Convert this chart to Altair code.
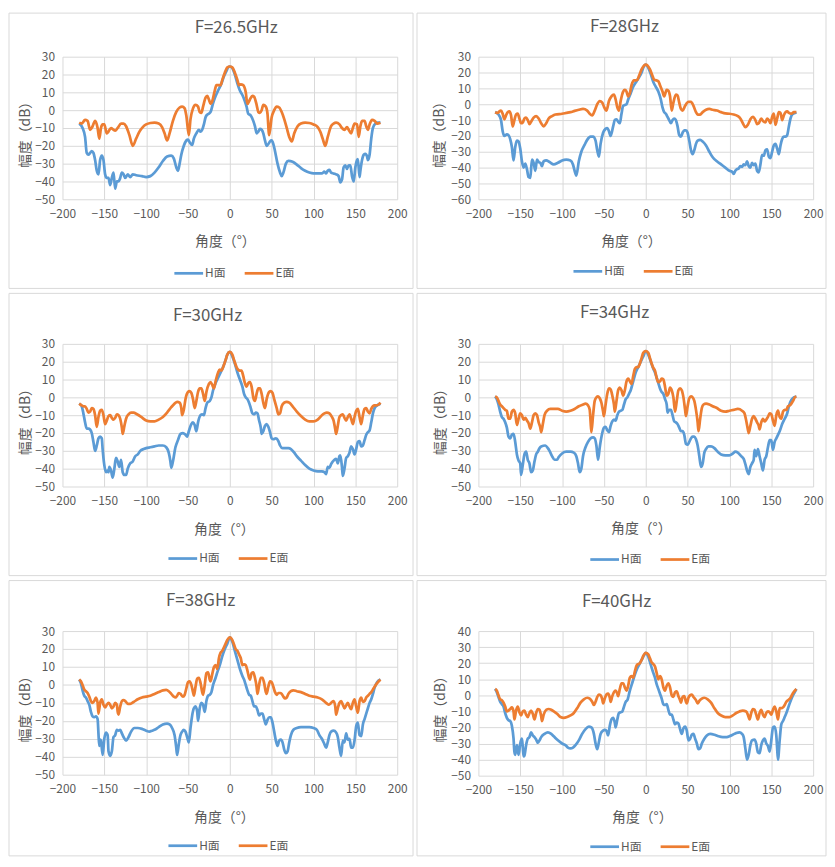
import altair as alt
import pandas as pd

TITLES = ["F=26.5GHz", "F=28GHz", "F=30GHz", "F=34GHz", "F=38GHz", "F=40GHz"]
SERIES = ["H面", "E面"]
X_TICKS = list(range(-200, 201, 50))
Y_DOMAINS = [(-50, 30), (-60, 30), (-50, 30), (-50, 30), (-50, 30), (-50, 40)]

# ---------------- F = 26.5 GHz ----------------
H1 = [(-180,-7.5),(-176,-10),(-173,-15),(-171,-24),(-169,-25),(-167,-24),(-165,-23),(-163,-24),(-161,-28),
      (-159,-34),(-157,-36),(-155,-28),(-153,-25.5),(-151,-28),(-149,-36),(-147,-38),(-145,-38),(-143,-42),
      (-141,-38),(-139,-35),(-137,-44),(-135,-40),(-133,-40),(-131,-38),(-129,-35),(-127,-36),(-125,-38),
      (-122,-36),(-119,-37.5),(-116,-36),(-112,-36.5),(-105,-37),(-100,-37.5),(-95,-37),(-90,-35),(-85,-32),
      (-80,-28.5),(-75,-26),(-70,-25.5),(-67,-27),(-64,-32),(-62,-34),(-60,-30),(-58,-25),(-55,-20),(-52,-17),
      (-50,-16.5),(-48,-18),(-45,-19.5),(-43,-16),(-40,-13),(-37,-11),(-35,-12),(-33,-11),(-31,-8),(-29,-4),
      (-27,-2.5),(-25,-2),(-23,-1),(-20,4),(-17,8),(-13,12),(-10,15),(-7,19),(-4,22),(-2,24),(0,24.5),
      (3,23.5),(6,20),(9,15),(12,11),(15,8.5),(18,5),(20,2),(22,-2),(25,-3),(28,-6),(30,-9),(32,-13),(34,-12),
      (36,-10.5),(38,-11),(40,-13),(42,-17),(44,-20),(46,-19),(48,-17.5),(50,-17),(52,-19),(54,-23),(57,-30),
      (60,-35),(62,-37),(64,-35),(67,-30),(70,-28.5),(75,-29),(80,-30.5),(85,-32.5),(90,-34),(95,-35),
      (100,-35.5),(105,-35.5),(110,-35.5),(113,-34.5),(115,-35.5),(117,-34),(119,-33.5),(121,-35),(124,-35.5),
      (127,-36),(130,-37),(132,-40.5),(134,-39),(136,-32),(138,-31),(140,-33),(142,-31),(144,-31),(146,-37),
      (148,-40),(150,-32),(152,-28),(153,-27.5),(155,-37.5),(156,-34),(158,-28),(160,-25),(162,-24.5),
      (164,-26),(165,-28),(167,-25),(169,-16),(171,-10),(174,-7.5),(177,-7),(180,-7)]
E1 = [(-180,-7),(-177,-7.5),(-173,-5.5),(-170,-6),(-167,-11),(-164,-9),(-161,-6),(-158,-10),(-156,-16),
      (-154,-10),(-152,-8),(-150,-8),(-147,-13),(-145,-12),(-142,-10),(-139,-11),(-137,-11.5),(-134,-10),
      (-130,-7.5),(-127,-7.5),(-124,-9),(-120,-14),(-116,-20),(-112,-16),(-108,-12),(-104,-9.5),(-100,-8),
      (-95,-7.2),(-90,-7),(-85,-7.5),(-81,-9.5),(-78,-13),(-75,-17),(-72,-13),(-68,-6),(-64,-1),(-60,1.5),
      (-57,2),(-54,1),(-52,-3),(-49,-14),(-47,-5),(-44,1),(-41,3),(-38,2),(-36,-1),(-34,-1.5),(-32,2),(-29,7),
      (-27,8),(-25,6),(-23,3.5),(-21,5),(-18,11),(-16,14),(-13,14),(-11,14),(-9,17),(-6,21),(-3,24),(0,24.5),
      (3,24),(6,21),(9,17),(11,14),(13,14.5),(16,14),(19,10),(21,3.5),(24,6),(27,8),(29,7.5),(32,3),(34,-1),
      (36,-1.5),(38,0),(40,3),(43,2),(45,-2),(47,-14),(50,-4),(53,0),(56,2),(59,1.5),(62,-1),(65,-5),(68,-10),
      (71,-15),(74,-17.5),(77,-13),(81,-9),(85,-7.5),(90,-7),(95,-7.2),(100,-8),(105,-9.5),(108,-12),(111,-16),
      (114,-20),(117,-15),(121,-9),(124,-7.5),(127,-7),(131,-8),(134,-10),(137,-11),(140,-9.5),(142,-11),
      (145,-13),(147,-10),(149,-7.5),(152,-8),(154,-15),(156,-9),(158,-6),(161,-6),(163,-9),(165,-11),
      (167,-8),(170,-5.5),(173,-6),(176,-7.5),(180,-7)]

# ---------------- F = 28 GHz ----------------
H2 = [(-180,-5),(-176,-6.5),(-173,-10),(-171,-17),(-169,-20),(-166,-19),(-164,-19.5),(-162,-22),(-160,-27),
      (-158,-35.5),(-156,-27),(-154,-23),(-152,-23.5),(-150,-28),(-148,-36),(-146,-40),(-144,-37.5),(-142,-41),
      (-140,-46),(-138,-46.5),(-136,-35),(-134,-37),(-132,-42),(-130,-35),(-128,-36.5),(-126,-37),(-124,-39),
      (-122,-36),(-119,-35.5),(-115,-36.5),(-110,-38),(-105,-37),(-100,-35.5),(-95,-35),(-90,-35.5),(-87,-38),
      (-85,-42),(-83,-45),(-80,-36),(-77,-30),(-73,-25.5),(-70,-22.5),(-66,-20.5),(-63,-20.5),(-60,-23),
      (-58,-29),(-56,-33),(-54,-25),(-51,-18),(-48,-15.5),(-46,-15),(-44,-17),(-42,-20),(-39,-14),(-37,-10),
      (-35,-9.5),(-33,-11),(-31,-12),(-29,-6),(-27,-1),(-25,-0.5),(-23,0),(-21,3),(-18,7),(-15,11),(-11,14.5),
      (-8,17),(-5,20),(-3,23),(0,25),(3,23),(6,19),(9,14),(12,11),(15,8),(18,3),(20,-2),(22,-5),(24,-6),(26,-8),
      (28,-10),(30,-12),(32,-10),(34,-9),(36,-10),(38,-14),(40,-19.5),(42,-20.5),(44,-18),(46,-16.5),(48,-16.5),
      (50,-18),(52,-23),(54,-29),(56,-31.5),(58,-29),(60,-25),(62,-23),(65,-22.5),(68,-23.5),(72,-26),(76,-30),
      (80,-33.5),(85,-36),(90,-38),(95,-40),(100,-42),(103,-42.5),(105,-44),(107,-42),(109,-41),(111,-40.5),
      (113,-39),(115,-39.5),(117,-38),(119,-38.5),(121,-36),(123,-39),(125,-40),(127,-37),(129,-38.5),
      (131,-37.5),(133,-42),(135,-43),(137,-38),(139,-32),(141,-32.5),(143,-29),(145,-28.5),(147,-33),
      (149,-34),(151,-30),(153,-26),(155,-25),(157,-28),(159,-31.5),(161,-26),(163,-22),(165,-20.5),
      (167,-20.5),(169,-19.5),(171,-14),(173,-9),(175,-6.5),(178,-5.5),(180,-5)]
E2 = [(-180,-5),(-177,-5.5),(-175,-4.5),(-173,-4),(-171,-6),(-169,-9.5),(-167,-7),(-165,-5),(-163,-4.5),
      (-161,-7),(-159,-14),(-157,-10),(-155,-6.5),(-153,-6),(-151,-9),(-149,-12),(-147,-11.5),(-145,-9),
      (-143,-8.5),(-141,-10),(-139,-12.5),(-137,-11),(-134,-8.5),(-131,-7.5),(-128,-9),(-125,-12),(-122,-14),
      (-119,-12),(-116,-9),(-112,-7.5),(-108,-6.5),(-100,-6),(-95,-5.5),(-90,-5),(-85,-4.2),(-80,-3.5),
      (-75,-3),(-70,-4),(-67,-6),(-64,-7),(-61,-4),(-58,0),(-55,2),(-52,1),(-50,-1.5),(-47,-4),(-44,2),(-41,5),
      (-38,6),(-36,3),(-34,-2),(-32,-4),(-30,2),(-27,8),(-25,9),(-23,8),(-21,5),(-19,7),(-17,12),(-14,15),
      (-12,15),(-10,15.5),(-8,18),(-5,22),(-2,24.5),(0,25),(2,24.5),(5,22),(8,18),(10,15.5),(13,15),(15,14.5),
      (17,12),(20,8),(22,5),(25,9),(27,8.5),(29,5),(31,-4),(33,1),(36,6),(38,5.5),(40,1),(42,-3),(44,-4),
      (47,-1),(51,1.5),(54,1.5),(57,-1),(60,-5),(62,-6.5),(65,-6.5),(68,-5),(72,-3.5),(76,-3),(80,-3.5),
      (85,-4),(90,-5),(95,-5.8),(100,-6),(105,-6.5),(110,-7.5),(113,-9),(116,-12),(119,-14.5),(122,-13),
      (125,-9.5),(128,-8),(131,-10),(133,-12.5),(135,-12),(138,-9),(140,-10.5),(143,-11.5),(145,-9),(147,-10),
      (149,-12),(151,-8),(153,-6),(155,-13),(157,-9),(159,-5),(161,-5.5),(163,-10),(165,-7),(167,-5),
      (169,-4.5),(171,-5.5),(174,-6),(177,-5),(180,-5)]

# ---------------- F = 30 GHz ----------------
H3 = [(-180,-3.5),(-177,-5),(-175,-9),(-173,-14),(-171,-17.5),(-169,-17.5),(-167,-18),(-165,-20),(-163,-25),
      (-161,-30),(-159,-27),(-157,-23),(-155,-22),(-153,-23),(-152,-29),(-150,-38),(-148,-42),(-146,-41),
      (-145,-42),(-144,-39),(-142,-41),(-140,-45),(-138,-40),(-136,-34),(-134,-36),(-132,-39),(-130,-35),
      (-128,-42),(-126,-43.5),(-124,-43.5),(-122,-40),(-119,-37),(-116,-36),(-113,-33),(-110,-32),(-107,-30),
      (-103,-29),(-100,-28.5),(-95,-28),(-90,-27.5),(-85,-27),(-80,-27),(-76,-28),(-73,-31),(-71,-36),
      (-70,-39.5),(-68,-36),(-65,-28),(-62,-24),(-59,-20.5),(-56,-20),(-53,-21),(-51,-22),(-49,-19),(-46,-15),
      (-44,-14),(-42,-15.5),(-40,-19),(-38,-14),(-35,-10),(-33,-9.5),(-31,-10),(-29,-6),(-27,-3),(-24,-2),
      (-22,0),(-20,4),(-17,8),(-14,11),(-11,14),(-8,17),(-5,21),(-3,24),(0,25.5),(3,23),(6,19),(9,14),(12,10),
      (15,6),(17,2),(19,0),(21,-1),(23,-3),(25,-6),(27,-9),(29,-9.5),(31,-8.5),(33,-9),(35,-13),(37,-17),
      (38,-20.5),(40,-19),(42,-16),(44,-15),(46,-16.5),(48,-19.5),(50,-23),(52,-23.5),(55,-23),(58,-24.5),
      (60,-27),(63,-28.5),(66,-28.5),(70,-28.5),(73,-29),(77,-31),(80,-33),(85,-35.5),(90,-38),(95,-40),
      (100,-41),(105,-41.5),(110,-41.5),(113,-42),(115,-43),(117,-39),(119,-39.5),(121,-37.5),(123,-36),
      (125,-35),(127,-34.5),(129,-37),(131,-33),(132,-32.5),(134,-39),(135,-44),(137,-40),(139,-34),(141,-33),
      (143,-31),(145,-27.5),(147,-29),(149,-32),(151,-29),(153,-25),(155,-24.5),(157,-27.5),(159,-27),
      (161,-24),(163,-21),(165,-19.5),(167,-18.5),(169,-14),(171,-9),(173,-6),(176,-4.5),(180,-3.5)]
E3 = [(-180,-3.5),(-177,-4.5),(-175,-5),(-173,-5),(-171,-6.5),(-169,-8.5),(-167,-8),(-165,-6),(-163,-6.5),
      (-161,-10),(-159,-16.5),(-157,-11),(-155,-7.5),(-153,-7),(-151,-10),(-149,-15),(-147,-13),(-145,-10.5),
      (-143,-10),(-141,-11.5),(-139,-12.5),(-137,-11.5),(-135,-9.5),(-133,-10),(-131,-12),(-129,-17),
      (-128,-20.5),(-126,-16),(-124,-12),(-121,-9.5),(-118,-8.5),(-115,-8.5),(-111,-9.5),(-106,-11),(-100,-13),
      (-95,-13.5),(-90,-13.5),(-85,-12.5),(-80,-11),(-75,-8.5),(-70,-5.5),(-66,-3.5),(-63,-2.5),(-60,-3),
      (-58,-6),(-57,-10),(-55,-7),(-53,-1),(-50,3),(-48,3.5),(-46,2.5),(-44,-1),(-42,-6),(-40,-2),(-38,3),
      (-36,5),(-34,5),(-32,2),(-30,-2),(-28,3),(-25,7.5),(-23,8.5),(-21,7),(-19,5),(-17,9),(-14,14),(-12,15.5),
      (-10,15),(-8,17),(-5,21),(-3,24),(0,25.5),(3,24),(5,21),(8,17),(10,15.5),(12,15),(14,15),(16,12),(18,8),
      (20,6),(22,8),(24,8.5),(26,6),(28,0),(30,-2),(32,2),(34,5),(36,5),(38,2),(40,-3),(42,-6),(44,-1),(47,3),
      (49,3.5),(51,2.5),(53,-1),(56,-6),(58,-9.5),(60,-9),(62,-5),(65,-3),(68,-2.5),(71,-3),(75,-5),(80,-8),
      (85,-10.5),(90,-12.5),(95,-13.5),(100,-13.5),(105,-12.5),(110,-10),(113,-9),(116,-8.5),(119,-9),
      (122,-11),(124,-13),(126,-18),(127,-20.5),(129,-16),(131,-11),(133,-10),(135,-9.5),(137,-11.5),
      (139,-13),(141,-11),(143,-9.5),(145,-12),(147,-15),(149,-11),(151,-7.5),(153,-6.5),(155,-11),(157,-15),
      (159,-10),(161,-6.5),(163,-6),(165,-8),(167,-9),(169,-6.5),(171,-5),(173,-4.5),(175,-4.5),(178,-4),
      (180,-3)]

# ---------------- F = 34 GHz ----------------
H4 = [(-180,0.5),(-178,-1),(-176,-4),(-174,-8),(-172,-11),(-170,-12),(-168,-14),(-166,-17),(-164,-22),
      (-162,-23),(-160,-21),(-158,-20.5),(-156,-25),(-154,-32),(-152,-35.5),(-150,-37),(-149,-43.5),
      (-147,-38),(-145,-32),(-143,-30.5),(-141,-35),(-139,-37),(-137,-42),(-135,-41),(-133,-36),(-131,-32),
      (-129,-30.5),(-127,-28.5),(-125,-27.5),(-120,-27),(-117,-28.5),(-115,-30),(-112,-33),(-109,-35),
      (-106,-35),(-104,-33.5),(-100,-31.5),(-95,-30.5),(-90,-30.5),(-86,-31),(-83,-33),(-81,-37),(-79,-42),
      (-77,-40),(-75,-33),(-72,-28),(-69,-25),(-66,-23),(-63,-22.5),(-61,-23),(-59,-27),(-57,-35),(-55,-28),
      (-52,-20),(-50,-17),(-48,-16.5),(-46,-18.5),(-44,-19.5),(-42,-16),(-40,-13.5),(-38,-12.5),(-36,-13),
      (-34,-10),(-32,-8),(-30,-7.5),(-28,-7),(-26,-4),(-24,-1),(-22,0),(-20,2),(-18,4),(-15,9),(-12,14),
      (-9,17),(-6,20),(-3,23),(0,26),(3,24),(6,20),(9,16),(11,14),(13,11),(15,8),(17,5),(19,3),(21,2),(23,-1),
      (25,-4),(26,-8.5),(28,-7),(30,-7),(32,-10),(34,-13.5),(36,-14),(38,-15),(40,-17),(42,-19),(44,-19),
      (46,-21),(48,-26),(50,-26.5),(52,-25),(54,-23),(56,-22),(58,-22),(60,-23.5),(62,-27),(64,-33),(66,-39),
      (68,-37),(70,-31),(72,-29),(75,-27.5),(78,-27.5),(82,-28.5),(86,-30.5),(90,-32),(95,-32.5),(100,-32.5),
      (104,-31.5),(107,-30.5),(110,-31),(114,-33),(117,-34.5),(119,-37.5),(121,-41),(123,-43),(125,-39),
      (127,-37),(129,-35),(130,-29.5),(132,-33),(134,-29),(136,-33),(138,-37),(140,-41),(142,-35),(144,-33),
      (146,-28),(148,-24),(150,-24),(152,-29.5),(154,-25),(156,-23),(158,-21),(160,-19),(163,-15),(166,-12),
      (169,-9),(171,-5),(174,-1.5),(177,0),(180,0.5)]
E4 = [(-180,0.5),(-178,0),(-176,-2),(-174,-4),(-172,-5),(-170,-6),(-168,-7),(-166,-7.5),(-164,-12),(-162,-12),
      (-160,-8),(-158,-7),(-156,-9),(-154,-15.5),(-152,-12),(-150,-9),(-148,-10),(-146,-12.5),(-144,-11.5),
      (-142,-13),(-140,-14.5),(-138,-17.5),(-136,-14),(-134,-10),(-132,-9),(-130,-10),(-128,-14),(-126,-17),
      (-125,-19.5),(-123,-15),(-121,-10),(-118,-7.5),(-114,-6.5),(-110,-6.5),(-105,-6.5),(-100,-7.5),(-95,-8),
      (-90,-7.5),(-85,-6.5),(-80,-5),(-75,-4),(-72,-3.5),(-69,-4.5),(-67,-7),(-66,-13),(-65,-19.5),(-63,-10),
      (-61,-2),(-59,0),(-57,0.5),(-55,-0.5),(-53,-3),(-51,-8),(-50,-10.5),(-48,-4),(-46,2),(-44,5),(-42,4.5),
      (-40,1),(-38,-4),(-37,-8),(-35,-2),(-33,4),(-31,5.5),(-29,4),(-27,1),(-25,4),(-23,9),(-21,10.5),(-19,9),
      (-17,7.5),(-15,12),(-13,16),(-11,17),(-9,17),(-7,19),(-5,22),(-3,25),(0,26),(3,25),(5,22),(7,19),
      (9,16.5),(11,15),(13,11),(15,8.5),(17,9),(19,10.5),(21,10),(23,6),(25,1),(27,2),(29,5.5),(31,4),(33,0),
      (35,-8),(37,-2),(39,4),(41,5),(43,4),(45,0),(47,-7),(48,-10.5),(50,-5),(52,-0.5),(54,0.5),(56,0),(58,-2),
      (60,-7),(62,-14),(63,-19),(65,-12),(67,-6),(69,-4),(72,-3.5),(76,-4),(80,-5),(85,-6),(90,-7.5),(95,-8),
      (100,-7.5),(105,-7),(110,-6.5),(115,-7.5),(118,-9),(120,-13),(122,-18),(123,-20),(125,-16),(127,-12),
      (129,-10.5),(131,-12),(133,-14),(135,-16),(136,-18),(138,-14),(140,-12),(142,-13.5),(144,-12.5),
      (146,-11),(148,-9),(150,-9.5),(152,-13),(154,-16),(156,-10),(158,-7.5),(160,-11),(162,-12),(164,-8),
      (166,-7),(168,-7),(170,-5),(172,-4.5),(174,-3.5),(176,-2),(178,0),(180,0.5)]

# ---------------- F = 38 GHz ----------------
H5 = [(-180,3),(-178,1),(-176,-3),(-174,-6),(-172,-7),(-170,-9),(-168,-11),(-166,-15),(-164,-17.5),(-162,-18),
      (-160,-17.5),(-158,-19),(-157,-27),(-156,-34),(-155,-30.5),(-154,-31),(-152,-39),(-150,-30),(-148,-26.5),
      (-146,-28),(-145,-37),(-143,-39.5),(-141,-37),(-139,-29),(-137,-28),(-135,-25),(-133,-25.5),(-131,-25),
      (-129,-27),(-127,-29),(-124,-31),(-121,-29),(-118,-26),(-114,-24),(-110,-24),(-105,-24.5),(-100,-25.5),
      (-96,-26),(-93,-25.5),(-90,-25),(-85,-23.5),(-80,-22),(-75,-21.5),(-72,-22),(-69,-24),(-66,-28),(-64,-35),
      (-63,-39),(-61,-33),(-59,-28),(-57,-26),(-55,-25),(-53,-26),(-51,-29),(-49,-32),(-47,-24),(-45,-17),
      (-43,-13),(-41,-12),(-39,-15),(-38,-20),(-36,-13),(-34,-10),(-32,-11),(-30,-15),(-28,-9),(-26,-6),
      (-24,-5.5),(-22,-4),(-20,0),(-17,4),(-15,7),(-12,11),(-9,16),(-6,20),(-3,23),(0,26.5),(3,24),(6,19),
      (9,14),(12,9),(15,5),(17,3),(19,0),(21,-3),(23,-5.5),(25,-6),(27,-9),(29,-12),(31,-12),(33,-14),(35,-17),
      (37,-16),(39,-16),(41,-19),(43,-22),(45,-19.5),(47,-18),(49,-18),(51,-21),(53,-26),(55,-31),(57,-34),
      (59,-31),(61,-30.5),(63,-32),(65,-36),(67,-38),(69,-37),(71,-32),(73,-28),(76,-25),(80,-24),(85,-23.5),
      (90,-23.5),(95,-23.5),(100,-24),(104,-25),(107,-28),(110,-30),(113,-33),(115,-35),(117,-32),(119,-28),
      (121,-26),(124,-25.5),(127,-26.5),(129,-29),(131,-35),(133,-39.5),(135,-31),(137,-32),(139,-27),
      (141,-30.5),(143,-30),(145,-35),(147,-35),(149,-31),(151,-23),(153,-21),(155,-28),(157,-28.5),(159,-22),
      (161,-19),(163,-16),(165,-13),(167,-10),(169,-8),(171,-5),(173,-1.5),(176,1.5),(180,3)]
E5 = [(-180,3),(-178,2),(-176,0),(-174,-2.5),(-172,-3.5),(-170,-4.5),(-168,-6.5),(-166,-9),(-164,-10),(-162,-9),
      (-160,-7),(-158,-10),(-157,-16),(-155,-10),(-153,-8),(-151,-11),(-149,-12.5),(-147,-11),(-145,-10),
      (-143,-11),(-141,-13),(-139,-12),(-137,-10),(-135,-11),(-134,-15),(-133,-16.5),(-131,-12),(-129,-9),
      (-127,-8.5),(-125,-9),(-122,-10.5),(-119,-10.5),(-115,-9.5),(-110,-8),(-105,-7),(-100,-6.5),(-95,-6),
      (-90,-5),(-85,-4),(-80,-3),(-76,-2.8),(-73,-3.5),(-70,-5),(-67,-6.5),(-65,-7),(-63,-6),(-61,-4.5),
      (-59,-5),(-56,-6.5),(-54,-5.5),(-52,-2),(-50,1.5),(-48,2),(-46,0),(-44,-4),(-43,-6),(-41,-1),(-39,3.5),
      (-37,4),(-35,1),(-33,-4),(-32,-5.5),(-30,0),(-28,6.5),(-26,7),(-24,3),(-23,2),(-21,6),(-19,10),(-17,11),
      (-15,9),(-13,15),(-11,18),(-9,19),(-7,21),(-5,23),(-3,25),(0,26.5),(3,25),(5,22.5),(7,20),(9,19),(11,17),
      (13,15),(15,11),(17,11.5),(19,11),(21,8),(23,4),(24,3),(26,6.5),(28,7),(30,4),(32,-1),(33,-5),(35,0),
      (37,4),(39,4),(41,1),(43,-4),(44,-5),(46,-1),(48,2),(50,1.5),(52,-1),(54,-4),(56,-5.5),(58,-4.5),
      (60,-4.5),(62,-5),(64,-6.5),(66,-7.5),(68,-7),(70,-5),(73,-3.5),(76,-3),(80,-3.5),(85,-4),(90,-5),
      (95,-6),(100,-6.5),(105,-7),(110,-8),(115,-10),(118,-11),(120,-10.5),(122,-9.5),(124,-9),(126,-12),
      (127,-16.5),(129,-13),(131,-10),(133,-9),(135,-11),(137,-13),(139,-11.5),(141,-10),(143,-12),
      (145,-13.5),(147,-10),(149,-8),(151,-12),(153,-15.5),(155,-9),(157,-7),(159,-9.5),(161,-9),(163,-7),
      (165,-6),(167,-5),(169,-4),(171,-2.5),(173,-1),(176,1),(180,3)]

# ---------------- F = 40 GHz ----------------
H6 = [(-180,4),(-178,2),(-176,-1),(-174,-4),(-172,-5.5),(-170,-7),(-168,-11),(-166,-14),(-164,-15.5),
      (-162,-16),(-160,-19),(-158,-27),(-157,-35),(-156,-37),(-154,-31),(-153,-34),(-152,-37),(-150,-30),
      (-148,-27),(-147,-32),(-146,-38),(-145,-37.5),(-143,-31),(-141,-27),(-139,-26),(-137,-23),(-135,-25),
      (-133,-26),(-131,-27.5),(-129,-29.5),(-127,-28),(-125,-26),(-121,-24),(-117,-23),(-113,-24),(-110,-25.5),
      (-105,-28),(-100,-30),(-96,-31),(-93,-32.5),(-90,-33),(-87,-32.5),(-84,-31),(-80,-28),(-76,-24),(-72,-21),
      (-68,-19.5),(-65,-20),(-62,-24),(-60,-30),(-58,-33.5),(-56,-29),(-54,-24),(-51,-22),(-49,-21.5),(-47,-22),
      (-45,-25),(-43,-19),(-41,-15),(-39,-14),(-37,-17),(-36,-20),(-34,-15),(-32,-11),(-30,-10.5),(-28,-10),
      (-26,-7),(-24,-4),(-22,-3),(-19,3),(-16,8),(-13,13),(-10,17),(-7,20),(-4,23),(-2,25),(0,26.5),(3,24),
      (6,19),(9,14),(11,11),(13,7),(15,4),(17,1),(19,-2),(21,-5.5),(23,-6),(25,-5.5),(27,-9),(29,-12),(31,-12),
      (33,-15),(35,-18),(37,-17),(39,-17.5),(41,-21),(43,-24),(45,-20.5),(47,-19.5),(49,-22),(51,-28),(53,-27),
      (55,-24.5),(57,-24),(59,-27),(61,-30),(63,-33.5),(65,-33),(67,-30),(70,-27),(73,-25),(77,-24),(82,-24.5),
      (87,-25.5),(92,-26),(97,-26),(100,-25.5),(104,-24.5),(108,-23.5),(112,-23),(115,-24),(117,-26),(119,-33),
      (121,-40),(123,-37),(125,-31),(127,-28),(130,-27.5),(132,-30),(134,-35.5),(136,-36),(138,-31),(140,-28),
      (142,-27),(144,-30),(146,-31.5),(148,-35),(150,-28),(152,-20),(154,-19.5),(156,-25),(157,-33),(158,-40),
      (160,-28),(162,-18),(164,-16),(166,-13.5),(168,-11),(170,-8),(172,-5),(175,-1),(178,2),(180,4)]
E6 = [(-180,4),(-178,3),(-176,0),(-174,-2.5),(-172,-3),(-170,-4.5),(-168,-7),(-166,-10),(-164,-9.5),
      (-162,-8.5),(-160,-7.5),(-158,-10),(-157,-15),(-155,-9.5),(-153,-7),(-151,-10.5),(-149,-12.5),(-147,-10),
      (-145,-9.5),(-143,-12),(-141,-13.5),(-139,-11),(-137,-9.5),(-135,-11.5),(-133,-15),(-131,-11),(-129,-8.5),
      (-127,-9),(-125,-13),(-124,-16),(-122,-12),(-119,-9),(-116,-8.5),(-113,-9),(-110,-10),(-106,-11.5),
      (-102,-13.5),(-98,-14),(-94,-13.5),(-90,-12.5),(-86,-11),(-82,-8),(-78,-4.5),(-74,-2.5),(-70,-1.5),
      (-67,-2),(-64,-4),(-62,-6),(-60,-4),(-58,-1),(-56,0.5),(-54,0),(-52,-2.5),(-51,-5),(-49,-2),(-47,0.5),
      (-45,1),(-43,-1.5),(-42,-4),(-40,-0.5),(-38,2),(-36,3),(-34,1),(-33,-0.5),(-31,4),(-29,7.5),(-27,7.5),
      (-25,5),(-23,3),(-21,6),(-19,11),(-17,12),(-15,11),(-13,15),(-11,18.5),(-9,19.5),(-7,20),(-5,22),
      (-3,24.5),(0,26.5),(3,25.5),(5,23),(7,20.5),(9,19.5),(11,18),(13,14),(15,10),(17,12),(19,10),(21,5),
      (23,3),(25,6),(27,7.5),(29,5),(31,0),(33,-1),(35,2),(37,2.5),(39,-0.5),(41,-3),(42,-4.5),(44,-1),
      (46,-0.5),(48,-4),(49,-5),(51,-1.5),(53,0),(55,0.5),(57,-1),(60,-3),(62,-5),(64,-3.5),(67,-2),(70,-1.5),
      (74,-2.5),(78,-4.5),(82,-8),(86,-11),(90,-12.5),(95,-13.5),(100,-13.5),(104,-12.5),(108,-11),(112,-10),
      (116,-9.5),(120,-10),(122,-12),(124,-15),(126,-11),(128,-8.5),(130,-9),(132,-12),(134,-15),(136,-11),
      (138,-9),(140,-12),(142,-13.5),(144,-11),(146,-10),(148,-10.5),(150,-12),(152,-9),(154,-7),(156,-10),
      (158,-15),(160,-8),(162,-8),(164,-7.5),(166,-6),(168,-4),(170,-3),(173,-1.5),(176,1.5),(180,4)]

H_SERIES = [H1, H2, H3, H4, H5, H6]
E_SERIES = [E1, E2, E3, E4, E5, E6]

# ---------------- styling / layout (not data) ----------------
BLUE, ORANGE = "#5B9BD5", "#ED7D31"
TEXT, GRID = "#595959", "#D9D9D9"
FONT = "Noto Sans CJK SC"
PLOT_W = 338

LAYOUT = [
    dict(h=144, tx=175, ty=-29, xtx=164, xty=43, ytx=-37, yty=75, lx=121, ly=212, fr=(-54, 354, -44, 234)),
    dict(h=144, tx=147, ty=-30, xtx=154, xty=43, ytx=-39, yty=75, lx=104, ly=210, fr=(-62, 351, -44, 234)),
    dict(h=144, tx=146, ty=-29, xtx=163, xty=43, ytx=-37, yty=75, lx=115, ly=210, fr=(-54, 354, -51, 234)),
    dict(h=144, tx=137, ty=-32, xtx=164, xty=42, ytx=-38, yty=75, lx=121, ly=211, fr=(-62, 351, -51, 234)),
    dict(h=145, tx=139, ty=-31, xtx=163, xty=43, ytx=-37, yty=75, lx=115, ly=210, fr=(-54, 354, -51, 227)),
    dict(h=146, tx=139, ty=-30, xtx=165, xty=42, ytx=-38, yty=75, lx=121, ly=211, fr=(-62, 351, -51, 227)),
]


def panel(i):
    L = LAYOUT[i]
    rows = [{"angle": a, "db": v, "series": SERIES[0]} for a, v in H_SERIES[i]]
    rows += [{"angle": a, "db": v, "series": SERIES[1]} for a, v in E_SERIES[i]]
    df = pd.DataFrame(rows)
    ymin, ymax = Y_DOMAINS[i]
    xscale = alt.Scale(domain=[-200, 200], nice=False)

    lines = alt.Chart(df).mark_line(strokeWidth=2.75, interpolate="monotone").encode(
        x=alt.X("angle:Q", scale=xscale,
                axis=alt.Axis(values=X_TICKS, grid=True, gridColor=GRID, domain=False, ticks=False,
                              labelPadding=9, labelFontSize=12, labelColor=TEXT, labelFont=FONT,
                              labelFlush=False, labelOverlap=False,
                              title="角度（°）", titleX=L["xtx"], titleY=L["xty"], titleFontSize=14,
                              titleFontWeight="normal", titleColor=TEXT, titleFont=FONT,
                              titleBaseline="middle", titleAlign="center")),
        y=alt.Y("db:Q", scale=alt.Scale(domain=[ymin, ymax], nice=False),
                axis=alt.Axis(values=list(range(ymin, ymax + 1, 10)), grid=True, gridColor=GRID,
                              domain=False, ticks=False, labelPadding=8, labelFontSize=12,
                              labelColor=TEXT, labelFont=FONT,
                              title="幅度（dB）", titleX=L["ytx"], titleY=L["yty"], titleFontSize=14,
                              titleFontWeight="normal", titleColor=TEXT, titleFont=FONT,
                              titleBaseline="middle", titleAlign="center")),
        color=alt.Color("series:N", sort=SERIES,
                        scale=alt.Scale(domain=SERIES, range=[BLUE, ORANGE]),
                        legend=alt.Legend(orient="none", legendX=L["lx"], legendY=L["ly"],
                                          direction="horizontal", title=None, padding=0,
                                          symbolType="M-2.9,0H2.9", symbolSize=100, symbolStrokeWidth=2.75,
                                          labelOffset=10, labelFontSize=12, labelColor=TEXT,
                                          labelFont=FONT, columnPadding=13)),
    )

    heading = alt.Chart(pd.DataFrame({"angle": [0]})).mark_rule(opacity=0).encode(
        x=alt.X("angle:Q", scale=xscale,
                axis=alt.Axis(orient="top", domain=False, ticks=False, labels=False, grid=False,
                              title=TITLES[i], titleX=L["tx"], titleY=L["ty"], titleFontSize=17,
                              titleFontWeight="normal", titleColor=TEXT, titleFont=FONT,
                              titleBaseline="middle", titleAlign="center"))
    )

    x1, x2, y1, y2 = L["fr"]
    frame = alt.Chart(pd.DataFrame({"k": [0]})).mark_rect(
        fillOpacity=0, stroke=GRID, strokeWidth=1
    ).encode(x=alt.value(x1), x2=alt.value(x2), y=alt.value(y1), y2=alt.value(y2))

    return alt.layer(frame, lines, heading).resolve_axis(x="independent").properties(
        width=PLOT_W, height=L["h"])


rows_ = []
for r in range(3):
    rows_.append(alt.hconcat(panel(2 * r), panel(2 * r + 1), spacing=2).resolve_scale(color="independent"))

chart = alt.vconcat(*rows_, spacing=3).resolve_scale(color="independent").properties(
    padding=0, background="white"
).configure_view(stroke="transparent")

chart.save("out.html", embed_options={"renderer": "svg", "actions": False})
